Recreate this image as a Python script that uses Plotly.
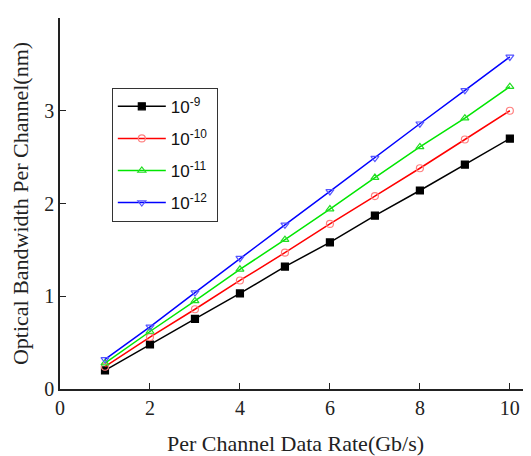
import plotly.graph_objects as go

rate = [1, 2, 3, 4, 5, 6, 7, 8, 9, 10]

ber_9 = [0.20, 0.48, 0.755, 1.03, 1.32, 1.58, 1.87, 2.14, 2.42, 2.70]
ber_10 = [0.24, 0.56, 0.86, 1.17, 1.47, 1.78, 2.08, 2.38, 2.69, 3.00]
ber_11 = [0.28, 0.62, 0.95, 1.29, 1.61, 1.94, 2.28, 2.61, 2.92, 3.26]
ber_12 = [0.32, 0.67, 1.04, 1.41, 1.77, 2.13, 2.49, 2.86, 3.22, 3.58]

labels = ['10<sup>-9</sup>', '10<sup>-10</sup>', '10<sup>-11</sup>', '10<sup>-12</sup>']

# line colour, marker symbol, marker fill, marker edge
styles = [
    ('#000000', 'square', '#000000', '#000000'),
    ('#ff0000', 'circle-open', '#ff8080', '#ff8080'),
    ('#00e600', 'triangle-up-open', '#22dd22', '#22dd22'),
    ('#0000ff', 'triangle-down-open', '#5555ff', '#5555ff'),
]

fig = go.Figure()
for i, (ys, name, (lc, sym, fc, ec)) in enumerate(zip([ber_9, ber_10, ber_11, ber_12], labels, styles)):
    fig.add_trace(go.Scatter(
        x=rate, y=ys, name=name + '&nbsp;', mode='lines+markers',
        legendgroup=f'g{i}',
        line=dict(color=lc, width=1.5),
        marker=dict(symbol=sym, size=7, color=fc, line=dict(color=ec, width=1.2)),
    ))

serif = 'Liberation Serif, Times New Roman, serif'

# page body has an 8px margin, so the figure is sized to fit the window
fig.update_layout(
    width=523, height=448,
    margin=dict(l=52, r=0, t=10, b=67),
    plot_bgcolor='white', paper_bgcolor='white',
    font=dict(family=serif, size=20, color='#222'),
    legend=dict(
        x=0.11, y=0.812, xanchor='left', yanchor='top',
        bordercolor='#333', borderwidth=1, bgcolor='white',
        tracegroupgap=7, itemwidth=48,
        font=dict(family='Liberation Sans, Arial, sans-serif', size=17, color='#111'),
    ),
    xaxis=dict(
        range=[0, 10.47], tickvals=[0, 2, 4, 6, 8, 10],
        showline=True, linecolor='#222', linewidth=1.5,
        ticks='inside', ticklen=6, tickcolor='#222',
        showgrid=False, zeroline=False, automargin=False,
        title=dict(text='Per Channel Data Rate(Gb/s)', font=dict(size=22), standoff=18),
    ),
    yaxis=dict(
        range=[0, 4], tickvals=[0, 1, 2, 3, 4],
        showline=True, linecolor='#222', linewidth=1.5,
        ticks='inside', ticklen=6, tickcolor='#222',
        showgrid=False, zeroline=False, automargin=False,
        title=dict(text='Optical Bandwidth Per Channel(nm)', font=dict(size=22), standoff=12),
    ),
)

fig.write_html('out.html')
